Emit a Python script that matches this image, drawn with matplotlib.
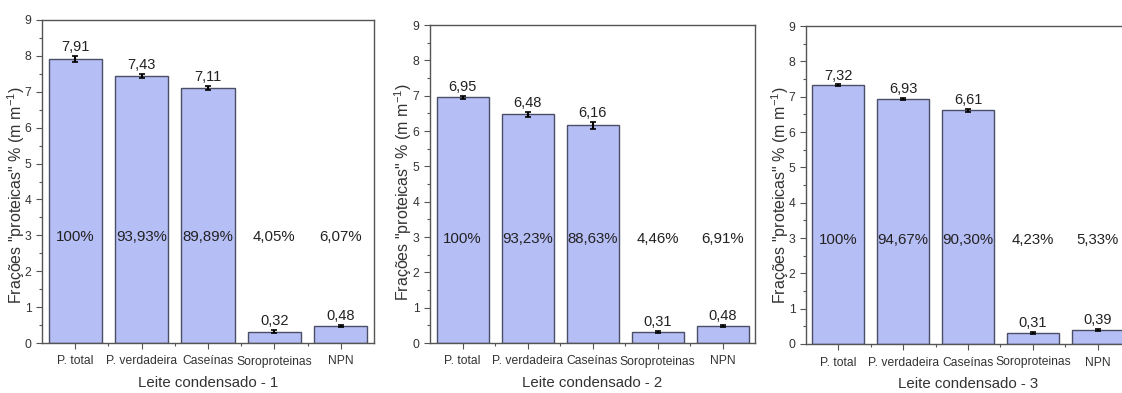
import matplotlib
matplotlib.use("Agg")
import matplotlib.pyplot as plt
from matplotlib.ticker import MultipleLocator

plt.rcParams['font.family'] = ['Liberation Sans', 'DejaVu Sans']
plt.rcParams['mathtext.fontset'] = 'custom'
plt.rcParams['mathtext.rm'] = 'Liberation Sans'
plt.rcParams['mathtext.it'] = 'Liberation Sans:italic'
plt.rcParams['mathtext.default'] = 'regular'

categories = ["P. total", "P. verdadeira", "Caseínas", "Soroproteinas", "NPN"]
values_1 = [7.91, 7.43, 7.11, 0.32, 0.48]
values_2 = [6.95, 6.48, 6.16, 0.31, 0.48]
values_3 = [7.32, 6.93, 6.61, 0.31, 0.39]
errors_1 = [0.08, 0.06, 0.06, 0.04, 0.03]
errors_2 = [0.05, 0.07, 0.09, 0.04, 0.03]
errors_3 = [0.03, 0.03, 0.04, 0.04, 0.03]
labels_1 = ["7,91", "7,43", "7,11", "0,32", "0,48"]
labels_2 = ["6,95", "6,48", "6,16", "0,31", "0,48"]
labels_3 = ["7,32", "6,93", "6,61", "0,31", "0,39"]
pct_1 = ["100%", "93,93%", "89,89%", "4,05%", "6,07%"]
pct_2 = ["100%", "93,23%", "88,63%", "4,46%", "6,91%"]
pct_3 = ["100%", "94,67%", "90,30%", "4,23%", "5,33%"]
titles = ["Leite condensado - 1", "Leite condensado - 2", "Leite condensado - 3"]

W, H = 1122, 393
fig = plt.figure(figsize=(W / 100, H / 100), dpi=100)

# axes boxes in pixels: left, top, right, bottom
boxes = [(42, 20, 374, 343), (430, 25, 755, 343), (806, 26, 1130, 344)]
ylabel_x = [16, 403, 780]
ylabel_y = [195, 192, 195]
datasets = [(values_1, errors_1, labels_1, pct_1),
            (values_2, errors_2, labels_2, pct_2),
            (values_3, errors_3, labels_3, pct_3)]

bar_color = "#b6bef6"
edge_color = "#4a4f66"

for (l, t, r, b), lx, ly, (vals, errs, labs, pcts), title in zip(boxes, ylabel_x, ylabel_y, datasets, titles):
    ax = fig.add_axes([l / W, 1 - b / H, (r - l) / W, (b - t) / H])
    x = list(range(1, len(categories) + 1))
    ax.bar(x, vals, width=0.8, color=bar_color, edgecolor=edge_color, linewidth=1.0)
    ax.errorbar(x, vals, yerr=errs, fmt='none', ecolor='black', elinewidth=1.5,
                capsize=2.5, capthick=1.2)
    for xi, v, e, lab in zip(x, vals, errs, labs):
        ax.text(xi, v + e + 0.05, lab, ha='center', va='bottom', fontsize=10.5, color='#222222')
    for xi, p in zip(x, pcts):
        ax.text(xi, 2.95, p, ha='center', va='center', fontsize=10.8, color='#222222')
    ax.set_xlim(0.5, 5.5)
    ax.set_ylim(0, 9)
    ax.set_xticks(x)
    ax.set_xticklabels(categories, fontsize=8.7, color='#333333')
    ax.set_xticks([1.5, 2.5, 3.5, 4.5], minor=True)
    ax.yaxis.set_major_locator(MultipleLocator(1))
    ax.yaxis.set_minor_locator(MultipleLocator(0.5))
    ax.tick_params(axis='both', which='major', direction='out', length=4, width=0.8,
                   colors='#555555', labelcolor='#333333', labelsize=8.7)
    ax.tick_params(axis='x', which='major', pad=5)
    ax.tick_params(axis='both', which='minor', direction='out', length=2, width=0.8,
                   colors='#555555')
    ax.tick_params(top=False, right=False, which='both')
    for s in ax.spines.values():
        s.set_color('#555555')
        s.set_linewidth(1.0)
    ax.set_xlabel(title, fontsize=10.8, color='#333333', labelpad=6)
    ax.set_ylabel('Frações "proteicas" % (m m$^{-1}$)', fontsize=11.5, color='#333333',
                  va='center')
    ax.yaxis.set_label_coords((lx - l) / (r - l), 1 - (ly - t) / (b - t))

fig.savefig("out.png", dpi=100)
